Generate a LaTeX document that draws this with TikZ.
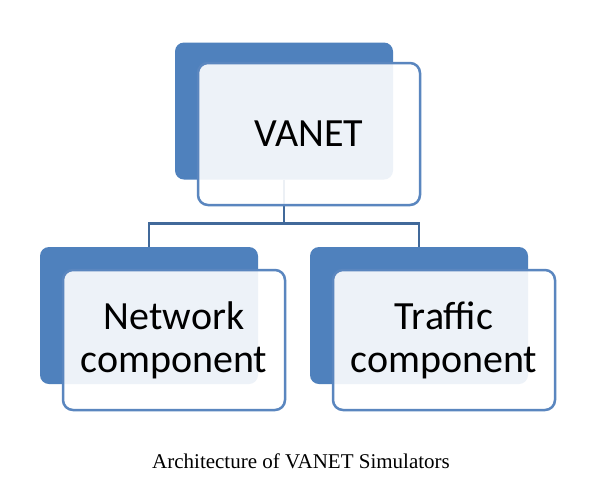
\documentclass[tikz,border=0pt]{standalone}
\usepackage{fontspec}
\setmainfont{Liberation Serif}
\newfontfamily\calfont{Carlito}
\definecolor{dkblue}{HTML}{4F81BD}
\definecolor{edgeblue}{HTML}{5A86BF}
\definecolor{linkblue}{HTML}{41699A}
\begin{document}
\begin{tikzpicture}[x=1pt,y=-1pt,
  backbox/.style={rectangle,rounded corners=9pt,fill=dkblue,draw=none,minimum width=218pt,minimum height=137pt,inner sep=0pt},
  frontbox/.style={rectangle,rounded corners=10pt,fill=white,fill opacity=0.9,text opacity=1,draw=edgeblue,line width=2.5pt,minimum width=222pt,minimum height=140pt,inner sep=0pt,align=center,font=\calfont\fontsize{40}{43}\selectfont},
  link/.style={draw=linkblue,line width=2.5pt}]
\useasboundingbox (0,0) rectangle (599,496);
\fill[white] (0,0) rectangle (599,496);
\node[backbox] (td) at (284,111) {};
\node[backbox] (ld) at (149,315.5) {};
\node[backbox] (rd) at (419,315.5) {};
\draw[link] (td.south) -- ++(0,44) -| (ld.north);
\draw[link] (td.south) -- ++(0,44) -| (rd.north);
\node[frontbox,minimum height=142pt] (tf) at (309,134) {VANET};
\node[frontbox] (lf) at (174,340) {Network\\component};
\node[frontbox] (rf) at (444,340) {Traffic\\component};
\node[font=\fontsize{21}{24}\selectfont,anchor=base] (cap) at (301,468) {Architecture of VANET Simulators};
\end{tikzpicture}
\end{document}
